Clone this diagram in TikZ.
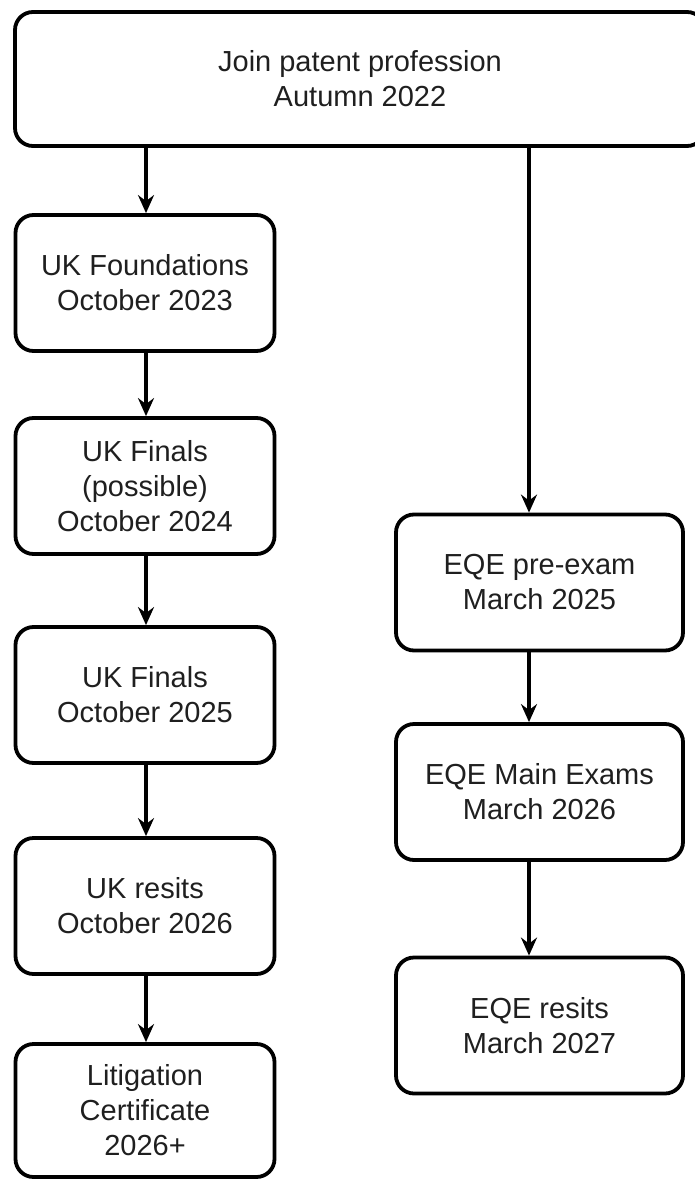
\documentclass[tikz,border=0pt]{standalone}
\usepackage{fontspec}
\setmainfont{Liberation Sans}
\usetikzlibrary{arrows.meta}
\begin{document}
\begin{tikzpicture}[x=1pt,y=-1pt,
  box/.style={draw=black, line width=3.8pt, rounded corners=18pt, align=center,
    font=\fontsize{29}{35}\selectfont, text=black!88, inner sep=0pt},
  lbox/.style={box, minimum width=259pt, minimum height=136pt},
  rbox/.style={box, minimum width=287pt, minimum height=136pt},
  arr/.style={line width=3.8pt, -{Stealth[length=18pt,width=16pt,inset=6pt]}}]
\clip (0,0) rectangle (695,1180);
\node[box, minimum width=690pt, minimum height=134pt] (top) at (360,79) {Join patent profession\\Autumn 2022};
\node[lbox] (F) at (145,283) {UK Foundations\\October 2023};
\node[lbox] (P) at (145,486) {UK Finals\\(possible)\\October 2024};
\node[lbox] (U) at (145,695) {UK Finals\\October 2025};
\node[lbox] (R) at (145,906) {UK resits\\October 2026};
\node[lbox, minimum height=133pt] (L) at (145,1110.5) {Litigation\\Certificate\\2026+};
\node[rbox] (E1) at (539.5,582.5) {EQE pre-exam\\March 2025};
\node[rbox] (E2) at (539.5,792) {EQE Main Exams\\March 2026};
\node[rbox] (E3) at (539.5,1025.5) {EQE resits\\March 2027};
\coordinate (lx) at (146,0);
\coordinate (rx) at (529,0);
\draw[arr] (top.south -| lx) -- (F.north -| lx);
\draw[arr] (F.south -| lx) -- (P.north -| lx);
\draw[arr] (P.south -| lx) -- (U.north -| lx);
\draw[arr] (U.south -| lx) -- (R.north -| lx);
\draw[arr] (R.south -| lx) -- (L.north -| lx);
\draw[arr] (top.south -| rx) -- (E1.north -| rx);
\draw[arr] (E1.south -| rx) -- (E2.north -| rx);
\draw[arr] (E2.south -| rx) -- (E3.north -| rx);
\end{tikzpicture}
\end{document}
